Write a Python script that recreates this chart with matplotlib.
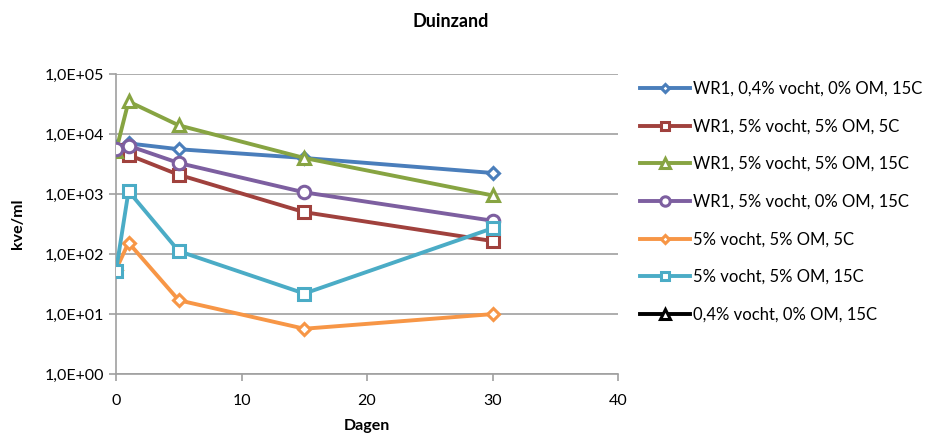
import math

import matplotlib
matplotlib.use("Agg")
import matplotlib.pyplot as plt
from matplotlib.ticker import FixedLocator, FuncFormatter, NullLocator

plt.rcParams["font.family"] = ["Lato", "DejaVu Sans"]

days = [0, 1, 5, 15, 30]

wr1_04_0_15 = [6000, 7000, 5600, 4000, 2250]
wr1_5_5_5 = [5400, 4500, 2100, 500, 165]
wr1_5_5_15 = [5200, 35000, 14000, 4000, 950]
wr1_5_0_15 = [5700, 6400, 3300, 1070, 360]
v5_5_5 = [55, 155, 17, 5.7, 10]
v5_5_15 = [52, 1120, 112, 22, 270]
v04_0_15 = []  # empty series, legend only

series = [
    ("WR1, 0,4% vocht, 0% OM, 15C", days, wr1_04_0_15, "#4A7EBB", "D", 6),
    ("WR1, 5% vocht, 5% OM, 5C", days, wr1_5_5_5, "#A0413D", "s", 8.5),
    ("WR1, 5% vocht, 5% OM, 15C", days, wr1_5_5_15, "#87A442", "^", 9),
    ("WR1, 5% vocht, 0% OM, 15C", days, wr1_5_0_15, "#7D5FA0", "o", 9),
    ("5% vocht, 5% OM, 5C", days, v5_5_5, "#F79646", "D", 6),
    ("5% vocht, 5% OM, 15C", days, v5_5_15, "#4BACC6", "s", 8.5),
    ("0,4% vocht, 0% OM, 15C", [], v04_0_15, "#000000", "^", 9),
]

fig = plt.figure(figsize=(9.3, 4.36), dpi=100)
ax = fig.add_axes([0.1247, 0.142, 0.540, 0.688])

for label, x, y, color, marker, ms in series:
    ax.plot(x, y, color=color, lw=2.8, marker=marker, ms=ms,
            mfc="white", mec=color, mew=2.2, label=label, zorder=3)

ax.set_yscale("log")
ax.set_ylim(1, 1e5)
ax.set_xlim(0, 40)
ax.yaxis.set_major_locator(FixedLocator([1, 10, 100, 1e3, 1e4, 1e5]))
ax.yaxis.set_minor_locator(NullLocator())
ax.yaxis.set_major_formatter(
    FuncFormatter(lambda v, p: "1,0E+{:02d}".format(int(round(math.log10(v))))))
ax.set_xticks([0, 10, 20, 30, 40])

ax.grid(axis="y", color="#A0A0A0", lw=1.2, zorder=0)
for s in ("top", "right"):
    ax.spines[s].set_visible(False)
for s in ("left", "bottom"):
    ax.spines[s].set_color("#A0A0A0")
    ax.spines[s].set_linewidth(1.2)
ax.tick_params(axis="both", colors="#A0A0A0", labelcolor="black",
               labelsize=11.5, length=5, width=1.2)
ax.tick_params(axis="x", pad=9)

fig.text(0.485, 0.95, "Duinzand", fontsize=13, fontweight="bold",
         ha="center", va="center")
ax.set_xlabel("Dagen", fontsize=11.5, fontweight="bold", labelpad=8)
ax.set_ylabel("kve/ml", fontsize=11.5, fontweight="bold", labelpad=14)

ax.legend(loc="upper left", bbox_to_anchor=(1.03, 1.0), frameon=False,
          fontsize=12, handlelength=3.0, handletextpad=0.2,
          labelspacing=1.3, borderaxespad=0, markerscale=0.75)

fig.savefig("out.png", dpi=100, facecolor="white")
